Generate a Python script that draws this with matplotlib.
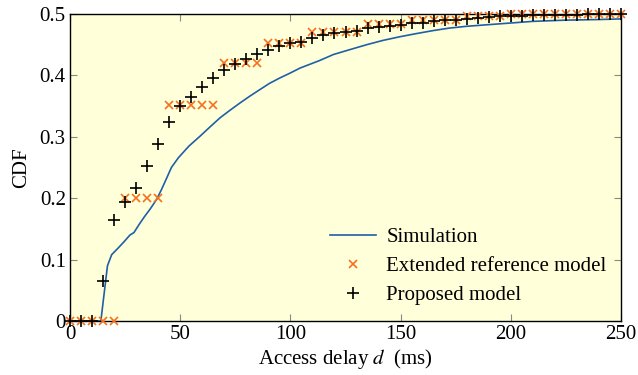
import matplotlib
matplotlib.use("Agg")
import matplotlib.pyplot as plt

plt.rcParams['font.family'] = ['Liberation Serif', 'DejaVu Serif']
plt.rcParams['mathtext.fontset'] = 'stix'

# Simulation curve (access delay in ms, CDF)
sim_x = [0, 14.0, 15.5, 17.0, 18.9, 21.9, 24.5, 27.2, 29.0, 31.5, 34.0, 36.5, 39.3, 41.5,
         43.9, 46.0, 49.2, 54.0, 59.0, 63.5, 68.1, 72.5, 77.1, 81.5, 86.2, 90.5, 95.3,
         100.0, 104.4, 113.1, 119.5, 127.0, 134.6, 142.0, 149.7, 157.0, 164.8, 172.0,
         180.0, 195.0, 210.0, 225.0, 240.0, 250.0]
sim_y = [0, 0, 0.045, 0.090, 0.108, 0.119, 0.129, 0.140, 0.144, 0.158, 0.171, 0.183, 0.198,
         0.214, 0.233, 0.250, 0.266, 0.285, 0.301, 0.316, 0.331, 0.343, 0.355, 0.366, 0.377,
         0.387, 0.396, 0.404, 0.412, 0.424, 0.434, 0.442, 0.450, 0.457, 0.463, 0.468, 0.473,
         0.477, 0.480, 0.484, 0.488, 0.490, 0.491, 0.492]

# Model points every 5 ms
model_x = list(range(0, 251, 5))
ext_ref = [0, 0, 0, 0, 0,
           0.2, 0.2, 0.2, 0.2,
           0.352, 0.352, 0.352, 0.352, 0.352,
           0.421, 0.421, 0.421, 0.421,
           0.453, 0.453, 0.453, 0.453,
           0.471, 0.471, 0.471, 0.471, 0.471,
           0.484, 0.484, 0.484, 0.484,
           0.490, 0.490, 0.490, 0.490, 0.490,
           0.497, 0.497, 0.497, 0.497,
           0.5, 0.5, 0.5, 0.5, 0.5, 0.5, 0.5, 0.5, 0.5, 0.5, 0.5]
proposed = [0, 0, 0, 0.065, 0.165, 0.194, 0.217, 0.252, 0.289, 0.324, 0.350, 0.365, 0.381,
            0.395, 0.408, 0.419, 0.427, 0.435, 0.442, 0.448, 0.453, 0.455, 0.461, 0.466,
            0.469, 0.471, 0.473, 0.477, 0.479, 0.481, 0.482, 0.485, 0.486, 0.488, 0.490,
            0.491, 0.492, 0.494, 0.495, 0.496, 0.497, 0.497, 0.498, 0.498, 0.499, 0.499,
            0.499, 0.5, 0.5, 0.5, 0.5]

xticks = [0, 50, 100, 150, 200, 250]
yticks = [0, 0.1, 0.2, 0.3, 0.4, 0.5]

fig = plt.figure(figsize=(6.38, 3.75), dpi=100)
ax = fig.add_axes([70/638, 54/375, 551/638, 307/375])
ax.set_facecolor('#FFFFD9')

ax.plot(sim_x, sim_y, color='#1F5FA8', lw=1.2, label='Simulation', zorder=2)
ax.plot(model_x, ext_ref, ls='none', marker='x', ms=6, mew=1.2, color='#F5701F',
        label='Extended reference model', zorder=3, clip_on=False)
ax.plot(model_x, proposed, ls='none', marker='+', ms=8, mew=1.2, color='black',
        label='Proposed model', zorder=4, clip_on=False)

ax.set_xlim(0, 250)
ax.set_ylim(0, 0.5)
ax.set_xticks(xticks)
ax.set_yticks(yticks)
ax.set_xticklabels([str(t) for t in xticks])
ax.set_yticklabels(['0', '0.1', '0.2', '0.3', '0.4', '0.5'])
ax.tick_params(direction='in', top=True, right=True, length=5, width=0.8,
               color='#888888', labelsize=15, pad=3)
for s in ax.spines.values():
    s.set_linewidth(1.0)
ax.set_xlabel(r'Access delay $d$  (ms)', fontsize=15, labelpad=2)
ax.set_ylabel('CDF', fontsize=15, labelpad=6)

ax.legend(loc='lower right', bbox_to_anchor=(1.0, 0.005), frameon=False, fontsize=15,
          handlelength=2.2, handletextpad=0.5, labelspacing=0.45, borderaxespad=0.3)

fig.savefig('out.png', dpi=100)
